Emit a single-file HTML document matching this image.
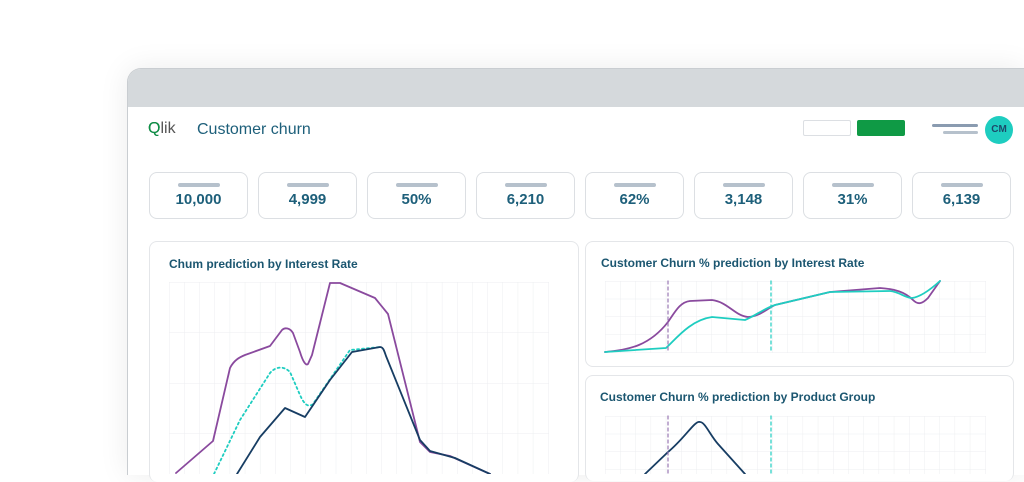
<!DOCTYPE html>
<html><head><meta charset="utf-8"><style>
html,body{margin:0;padding:0;background:#fff;width:1024px;height:474px;overflow:hidden;font-family:"Liberation Sans",sans-serif}
.frame{position:absolute;left:127px;top:68px;width:896px;height:406px;border-radius:14px 0 0 0;background:#fff;box-shadow:0 0 30px rgba(0,0,0,0.08);overflow:hidden;border:1px solid #c9cdd1;border-bottom:none;border-right:none}
.bar{height:38px;background:#d5d9dc}
.kpi{position:absolute;top:172px;width:97px;height:45px;border:1px solid #dcdfe3;border-radius:8px;background:#fff;text-align:center}
.kpi i{display:block;margin:10px auto 0;width:42px;height:4px;border-radius:2px;background:#b6c1cc}
.kpi b{display:block;margin-top:4px;font-size:15px;color:#1d5f7a;font-weight:bold}
.panel{position:absolute;border:1px solid #e4e6e9;border-radius:8px;background:#fff}
.t{position:absolute;font-size:12px;font-weight:bold;color:#1b5670}
</style></head><body>
<div class="frame"><div class="bar"></div></div>
<div style="position:absolute;left:148px;top:120px;font-size:16px;color:#3a3a3a">Q<span style="color:#555">lik</span></div>
<div style="position:absolute;left:148px;top:120px;font-size:16px;color:#0b9346;width:13px;overflow:hidden">Q</div>
<div style="position:absolute;left:197px;top:121px;font-size:16px;color:#1d5f7a">Customer churn</div>
<div style="position:absolute;left:803px;top:120px;width:46px;height:14px;border:1px solid #dcdfe3;border-radius:2px"></div>
<div style="position:absolute;left:857px;top:120px;width:48px;height:16px;background:#0f9a45;border-radius:2px"></div>
<div style="position:absolute;left:932px;top:124px;width:46px;height:3px;background:#8a9bb0;border-radius:2px"></div>
<div style="position:absolute;left:943px;top:131px;width:35px;height:3px;background:#b6c1cc;border-radius:2px"></div>
<div style="position:absolute;left:985px;top:116px;width:28px;height:28px;border-radius:50%;background:#1ecdc0;color:#1d4a6a;font-size:10px;font-weight:bold;text-align:center;line-height:28px">CM</div>
<div class="kpi" style="left:149px"><i></i><b>10,000</b></div>
<div class="kpi" style="left:258px"><i></i><b>4,999</b></div>
<div class="kpi" style="left:367px"><i></i><b>50%</b></div>
<div class="kpi" style="left:476px"><i></i><b>6,210</b></div>
<div class="kpi" style="left:585px"><i></i><b>62%</b></div>
<div class="kpi" style="left:694px"><i></i><b>3,148</b></div>
<div class="kpi" style="left:803px"><i></i><b>31%</b></div>
<div class="kpi" style="left:912px"><i></i><b>6,139</b></div>
<div class="panel" style="left:149px;top:241px;width:428px;height:240px;border-bottom:none"></div>
<div class="panel" style="left:585px;top:241px;width:427px;height:124px"></div>
<div class="panel" style="left:585px;top:375px;width:427px;height:105px;border-bottom:none"></div>
<div class="t" style="left:169px;top:257px">Chum prediction by Interest Rate</div>
<div class="t" style="left:601px;top:256px">Customer Churn % prediction by Interest Rate</div>
<div class="t" style="left:600px;top:390px">Customer Churn % prediction by Product Group</div>
<svg width="1024" height="474" style="position:absolute;left:0;top:0">
<defs>
<pattern id="g1" x="169" y="282" width="15.16" height="50.5" patternUnits="userSpaceOnUse"><path d="M0 0V51M0 0H16" stroke="#eceef0" stroke-width="1" fill="none"/></pattern>
<pattern id="g2" x="605" y="281" width="15.2" height="17.75" patternUnits="userSpaceOnUse"><path d="M0 0V18M0 0H16" stroke="#eceef0" stroke-width="1" fill="none"/></pattern>
<pattern id="g3" x="605" y="416" width="15.2" height="17.75" patternUnits="userSpaceOnUse"><path d="M0 0V18M0 0H16" stroke="#eceef0" stroke-width="1" fill="none"/></pattern>
</defs>
<rect x="169" y="282" width="380" height="192" fill="url(#g1)"/>
<rect x="605" y="281" width="381" height="72" fill="url(#g2)"/>
<rect x="605" y="416" width="381" height="58" fill="url(#g3)"/>
<g fill="none" stroke-width="1.8" stroke-linejoin="round" stroke-linecap="round">
<path d="M176 473 L213 441 L230 368 C234 360 240 357 245 355 L270 346 L282 330 C285 327 290 328 293 333 L300 352 C303 362 306 366 308 364 L312 355 L330 283 L340 283 L375 298 L388 314 L420 442 L430 452 L450 456 L490 474" stroke="#8a4a9e"/>
<path d="M214 474 L240 420 L270 373 C276 366 284 366 290 372 L300 395 C304 404 308 408 313 404 L350 350 L380 347" stroke="#1ecdc0" stroke-dasharray="2 3"/>
<path d="M237 474 L260 437 L285 408 L305 417 L330 380 L352 352 L380 347 C383 347 384 350 386 356 L420 440 L430 451 L455 458 L490 474" stroke="#173d63"/>
<path d="M605 352 C630 350 650 345 668 322 C675 312 680 302 690 301 L712 300 C728 302 735 316 748 317 C760 316 765 310 775 305 L830 292 L880 288 C895 289 905 292 913 300 C918 305 922 304 928 298 L940 281" stroke="#8a4a9e"/>
<path d="M605 352 L666 348 C675 340 690 320 712 317 L745 320 C755 316 765 308 775 305 L830 292 L890 291 C900 292 905 298 912 298 C920 297 930 290 940 281" stroke="#1ecdc0"/>
<path d="M645 474 L668 452 C685 438 695 420 700 422 C705 422 710 435 718 444 L745 474" stroke="#173d63"/>
<line x1="668" y1="281" x2="668" y2="353" stroke="#9a78b4" stroke-width="1.2" stroke-dasharray="3 3"/>
<line x1="771" y1="281" x2="771" y2="353" stroke="#1ecdc0" stroke-width="1.2" stroke-dasharray="3 3"/>
<line x1="668" y1="416" x2="668" y2="474" stroke="#9a78b4" stroke-width="1.2" stroke-dasharray="3 3"/>
<line x1="771" y1="416" x2="771" y2="474" stroke="#1ecdc0" stroke-width="1.2" stroke-dasharray="3 3"/>
</g>
</svg>
</body></html>
